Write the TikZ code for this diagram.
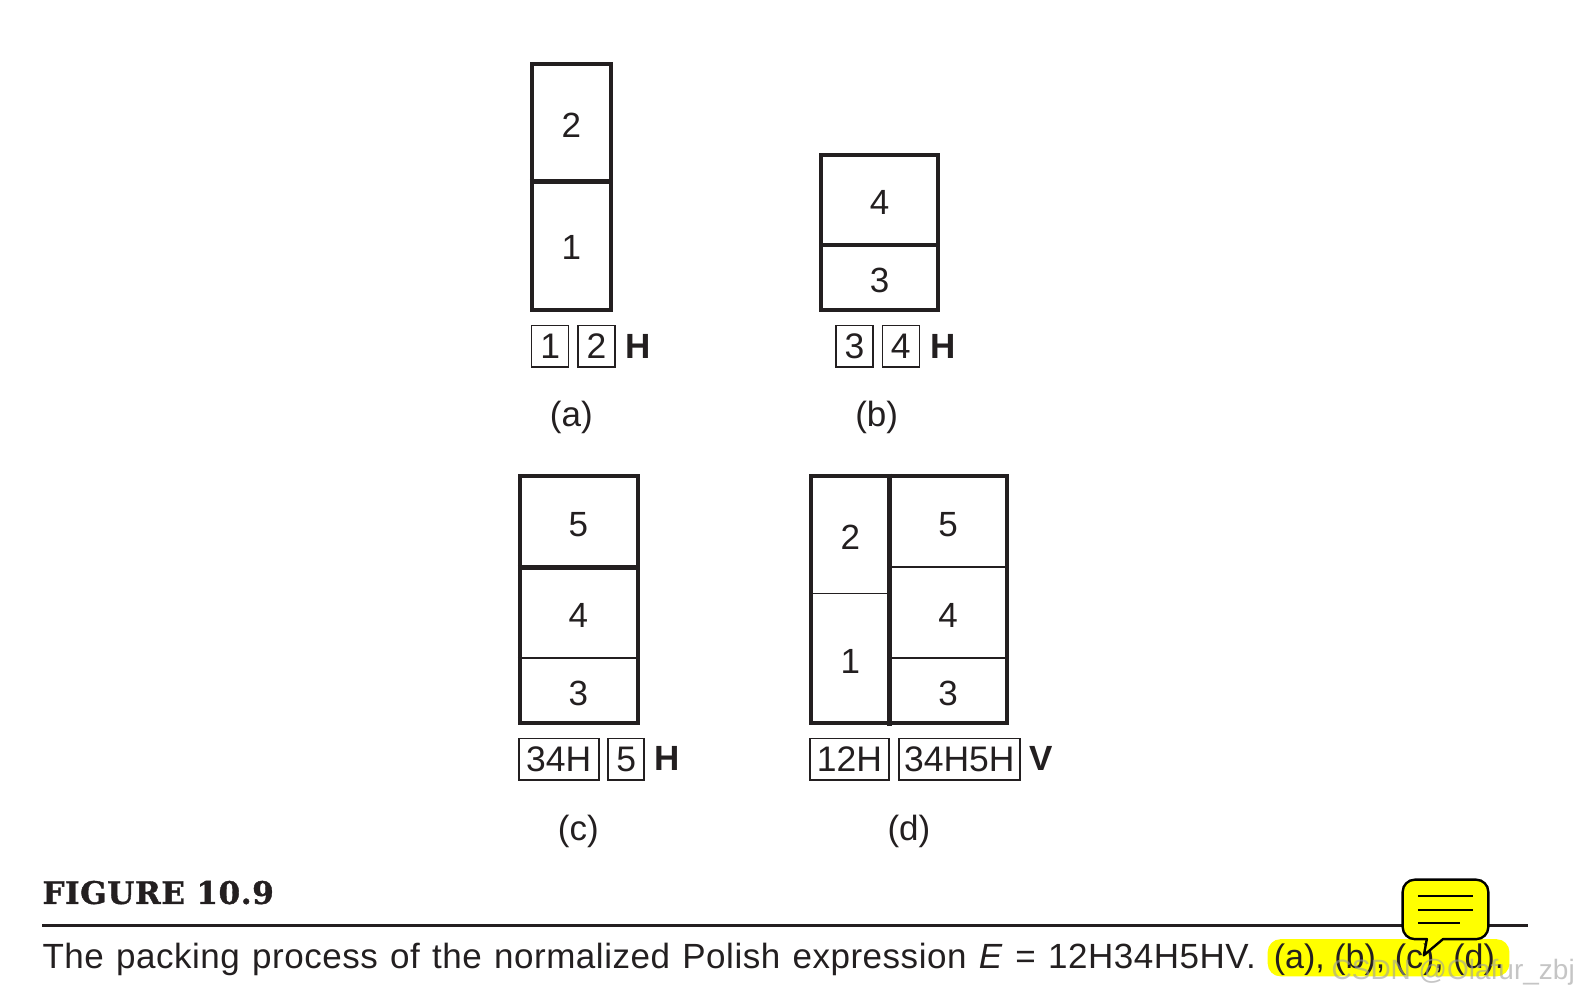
\documentclass[tikz,border=0pt]{standalone}
\usepackage{fontspec}
\setmainfont{Liberation Sans}
\newfontfamily\slabfont{DejaVu Serif}[BoldFont={DejaVu Serif Bold}]
\newfontfamily\captfont{Liberation Sans}[WordSpace=1.2,LetterSpace=1.5]
\definecolor{ink}{HTML}{231F20}
\definecolor{hl}{HTML}{FFFF00}
\tikzset{
  x=1.0077pt,y=-1.0077pt,
  heavy/.style={draw=ink,line width=4pt},
  split/.style={draw=ink,line width=4.6pt},
  light/.style={draw=ink,line width=1.9pt},
  num/.style={text=ink,inner sep=0pt,font=\fontsize{35}{35}\selectfont},
  lab/.style={text=ink,inner sep=0pt,anchor=center,font=\fontsize{35}{35}\selectfont},
  opr/.style={text=ink,inner sep=0pt,font=\fontsize{35}{35}\selectfont\bfseries},
  expr/.style={text=ink,draw=ink,line width=1.6pt,inner sep=0pt,minimum height=41.5pt,font=\fontsize{35.5}{35.5}\selectfont},
  capt/.style={anchor=base west,inner sep=0pt,text=ink,font=\captfont\fontsize{35}{35}\selectfont},
}
\begin{document}
\begin{tikzpicture}
\useasboundingbox (0,0) rectangle (1568,989);
% (a)
\node[heavy,minimum width=79pt,minimum height=246pt,inner sep=0pt] (A) at (567,186) {};
\draw[split] (A.west |- 0,180) coordinate (a1) -- (A.east |- 0,180) coordinate (a2);
\node[num] (a2n) at (567,124) {2};
\node[num] (a1n) at (567,246) {1};
\node[expr,minimum width=37pt] (ax1) at (546,343.5) {1};
\node[expr,minimum width=37pt] (ax2) at (592,343.5) {2};
\node[opr] (axh) at (633,343.5) {H};
\node[lab] (acap) at (567,414) {(a)};
% (b)
\node[heavy,minimum width=117pt,minimum height=155pt,inner sep=0pt] (B) at (873,231) {};
\draw[split] (B.west |- 0,243) -- (B.east |- 0,243);
\node[num] (b4) at (873,201) {4};
\node[num] (b3) at (873,278) {3};
\node[expr,minimum width=37pt] (bx1) at (848,343.5) {3};
\node[expr,minimum width=37pt] (bx2) at (894,343.5) {4};
\node[opr] (bxh) at (935.5,343.5) {H};
\node[lab] (bcap) at (870,414) {(b)};
% (c)
\node[heavy,minimum width=118pt,minimum height=247pt,inner sep=0pt] (C) at (574.5,595) {};
\draw[split] (C.west |- 0,563) -- (C.east |- 0,563);
\draw[light] (C.west |- 0,653) -- (C.east |- 0,653);
\node[num] (c5) at (574,521) {5};
\node[num] (c4) at (574,611) {4};
\node[num] (c3) at (574,688) {3};
\node[expr,minimum width=80pt] (cx1) at (554.5,753.5) {34H};
\node[expr,minimum width=36pt] (cx2) at (621.5,753.5) {5};
\node[opr] (cxh) at (662.5,753) {H};
\node[lab] (ccap) at (574,825) {(c)};
% (d)
\node[heavy,minimum width=196pt,minimum height=247pt,inner sep=0pt] (D) at (902.5,595) {};
\draw[split] (883,470) coordinate (dt) -- (883,720) coordinate (db);
\draw[light] (D.west |- 0,589) -- (883,589);
\draw[light] (883,563) -- (D.east |- 0,563);
\draw[light] (883,653) -- (D.east |- 0,653);
\node[num] (d2) at (844,533) {2};
\node[num] (d1) at (844,656) {1};
\node[num] (d5) at (941,521) {5};
\node[num] (d4) at (941,611) {4};
\node[num] (d3) at (941,688) {3};
\node[expr,minimum width=79pt] (dx1) at (843,753.5) {12H};
\node[expr,minimum width=121pt] (dx2) at (952,753.5) {34H5H};
\node[opr] (dxv) at (1033,753) {V};
\node[lab] (dcap) at (902,825) {(d)};
% caption
\node[anchor=base west,inner sep=0pt,text=ink,font=\slabfont\bfseries\fontsize{31}{31}\selectfont\addfontfeature{FakeBold=1.2,LetterSpace=2}] (fig) at (42,897) {FIGURE 10.9};
\coordinate (r1) at (42,918.5);
\coordinate (r2) at (1516,918.5);
\draw[draw=ink,line width=2.8pt] (r1) -- (r2);
\fill[hl,rounded corners=13pt] (1258,932) rectangle (1498,969);
\node[capt] (body) at (42,961) {The packing process of the normalized Polish expression \textit{E} = 12H34H5HV.};
\node[capt,font=\fontsize{34}{34}\selectfont] (refs) at (1264,961) {(a), (b), (c), (d).};
% comment balloon
\draw[draw=black,fill=hl,line width=2.4pt,line join=round]
  (1404,873) -- (1465,873) arc[start angle=-90,end angle=0,radius=12]
  -- (1477,920) arc[start angle=0,end angle=90,radius=12]
  -- (1432,932) -- (1413,948) -- (1416,932) -- (1404,932)
  arc[start angle=90,end angle=180,radius=12] -- (1392,885)
  arc[start angle=180,end angle=270,radius=12] -- cycle;
\draw[black,line width=2.2pt] (1407,889) coordinate (l1a) -- (1462,889) coordinate (l1b);
\draw[black,line width=2.2pt] (1407,903) coordinate (l2a) -- (1462,903) coordinate (l2b);
\draw[black,line width=2.2pt] (1407,916) coordinate (l3a) -- (1449,916) coordinate (l3b);
% watermark
\node[anchor=base east,inner sep=0pt,text=gray!75,text opacity=.6,font=\fontsize{28}{28}\selectfont] (wm) at (1563,972) {CSDN @Olafur\_zbj};
\end{tikzpicture}
\end{document}
